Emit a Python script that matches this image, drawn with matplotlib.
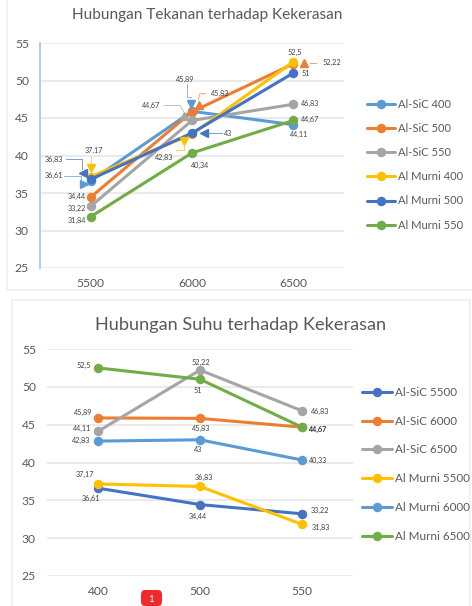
import matplotlib
matplotlib.use("Agg")
import matplotlib.pyplot as plt
from matplotlib.lines import Line2D
from matplotlib.patches import FancyBboxPatch, Rectangle
from matplotlib.transforms import IdentityTransform

W, H = 472, 606
plt.rcParams['font.family'] = ['Lato', 'DejaVu Sans']

BLUE_L, ORANGE, GRAY, YELLOW, BLUE_D, GREEN = '#5B9BD5', '#ED7D31', '#A5A5A5', '#FFC000', '#4472C4', '#70AD47'
TXT = '#595959'

# ---- top chart data
top_title = 'Hubungan Tekanan terhadap Kekerasan'
top_cats = ['5500', '6000', '6500']
top_names = ['Al-SiC 400', 'Al-SiC 500', 'Al-SiC 550', 'Al Murni 400', 'Al Murni 500', 'Al Murni 550']
sic400 = [36.61, 45.89, 44.11]
sic500 = [34.44, 45.83, 52.22]
sic550 = [33.22, 44.67, 46.83]
murni400 = [37.17, 42.83, 52.5]
murni500 = [36.83, 43, 51]
murni550 = [31.84, 40.34, 44.67]
top_vals = [sic400, sic500, sic550, murni400, murni500, murni550]
top_cols = [BLUE_L, ORANGE, GRAY, YELLOW, BLUE_D, GREEN]

# ---- bottom chart data
bot_title = 'Hubungan Suhu terhadap Kekerasan'
bot_cats = ['400', '500', '550']
bot_names = ['Al-SiC 5500', 'Al-SiC 6000', 'Al-SiC 6500', 'Al Murni 5500', 'Al Murni 6000', 'Al Murni 6500']
sic5500 = [36.61, 34.44, 33.22]
sic6000 = [45.89, 45.83, 44.67]
sic6500 = [44.11, 52.22, 46.83]
murni5500 = [37.17, 36.83, 31.83]
murni6000 = [42.83, 43, 40.33]
murni6500 = [52.5, 51, 44.67]
bot_vals = [sic5500, sic6000, sic6500, murni5500, murni6000, murni6500]
bot_cols = [BLUE_D, ORANGE, GRAY, YELLOW, BLUE_L, GREEN]

yticks = [25, 30, 35, 40, 45, 50, 55]

# data-label offsets from the point, pixels (dx, dy up), per series
top_off = [[(-37, 5), (-7, 32), (6, -10)],
           [(-14, 1), (28, 18), (39, 1)],
           [(-14, -2), (-41, 15), (17, 1)],
           [(3, 26), (-28, -23), (1, 9)],
           [(-37, 20), (36, 0), (12, -1)],
           [(-14, -4), (8, -13), (17, 1)]]
bot_off = [[(-7, -10), (-2, -12), (18, 3)],
           [(-15, 5), (1, -10), (16, -2)],
           [(-16, 3), (1, 8), (18, -1)],
           [(-13, 9), (3.5, 9.5), (19, -3)],
           [(-17, 1), (-2, -10), (16, 0)],
           [(-14, 2), (-2, -11), (16, -2)]]

# callouts on the top chart: series, point, marker, marker offset, leader path offsets
callouts = [
    (0, 0, '>', (-7, -3), [(-27, 5), (-10, 5), (-10, -1)]),
    (4, 0, '<', (-8, 6), [(-25, 20), (-9, 20), (-9, 10)]),
    (3, 0, 'v', (0, 9), [(0, 20), (0, 14)]),
    (0, 1, 'v', (-1.5, 7), [(-5.5, 27), (-5.5, 14), (-1.5, 14)]),
    (1, 1, '^', (6.5, 7), [(13.5, 18), (7.5, 18), (6.5, 12)]),
    (2, 1, '^', (-8.5, 4.5), [(-28, 15), (-12, 15), (-8.5, 9)]),
    (4, 1, '<', (11.5, 0), [(16, 0), (30, 0)]),
    (3, 1, 'v', (-8.5, -7), [(-16, -16), (-8.5, -16), (-8.5, -12)]),
    (1, 2, '^', (11, 1), [(17, 1), (23, 1)]),
]

fig = plt.figure(figsize=(W / 100, H / 100), dpi=100, facecolor='white')


def fx(px):
    return px / W


def fy(py):
    return 1 - py / H


def panel(x0, y0, x1, y1):
    fig.add_artist(Rectangle((fx(x0), fy(y1)), fx(x1 - x0), (y1 - y0) / H, transform=fig.transFigure,
                             facecolor='white', edgecolor='#EFEFEF', lw=1.2, zorder=-5))


panel(7, -5, 480, 290)
panel(12, 300, 470, 620)


def chart(box, title, title_xy, title_fs, cats, names, vals, cols, offs, leg_xy, leg_fs, leg_space, handle_px):
    x0, y0, x1, y1 = box
    ax = fig.add_axes([fx(x0), fy(y1), fx(x1 - x0), (y1 - y0) / H])
    ax.patch.set_alpha(0)
    ax.set_xlim(-0.5, 2.5)
    ax.set_ylim(25, 55)
    ax.set_yticks(yticks)
    ax.set_xticks(range(3))
    ax.set_xticklabels(cats)
    ax.grid(axis='y', color='#E4E4E4', lw=1.1)
    ax.set_axisbelow(True)
    for s in ax.spines.values():
        s.set_visible(False)
    ax.tick_params(length=0, labelsize=8.7, labelcolor=TXT, pad=7)
    ax.tick_params(axis='y', pad=8)
    handles = []
    for name, v, c in zip(names, vals, cols):
        h, = ax.plot(range(3), v, color=c, lw=2.2, marker='o', ms=5.8, label=name, solid_capstyle='round')
        handles.append(h)
    for v, off, c in zip(vals, offs, cols):
        for i, (val, (dx, dy)) in enumerate(zip(v, off)):
            ax.annotate(f'{val:g}'.replace('.', ','), (i, val), xytext=(dx, dy), textcoords='offset pixels',
                        ha='center', va='center', fontsize=5.2, color='#404040', zorder=6)
    fig.text(fx(title_xy[0]), fy(title_xy[1]), title, ha='center', va='center', fontsize=title_fs, color=TXT)
    fig.legend(handles=handles, loc='upper left', bbox_to_anchor=(fx(leg_xy[0]), fy(leg_xy[1])), frameon=False,
               fontsize=leg_fs, labelcolor=TXT, handlelength=handle_px / (leg_fs * 100 / 72), handletextpad=0.25,
               labelspacing=leg_space, borderpad=0, borderaxespad=0)
    return ax


top_ax = chart((40, 43, 344, 268), top_title, (207, 15), 11.1, top_cats, top_names, top_vals, top_cols,
               top_off, (367, 99), 8.0, 1.18, 28)
bot_ax = chart((47, 349, 353, 576), bot_title, (241, 325), 13.1, bot_cats, bot_names, bot_vals, bot_cols,
               bot_off, (362, 387), 8.4, 1.52, 30)

# selected-series accent on the top chart's value axis
top_ax.spines['left'].set_visible(True)
top_ax.spines['left'].set_color('#A9CDEB')
top_ax.spines['left'].set_linewidth(1.4)

# callouts
fig.canvas.draw()
for s, i, mk, (mx, my), path in callouts:
    val = top_vals[s][i]
    px, py = top_ax.transData.transform((i, val))
    col = top_cols[s]
    fig.add_artist(Line2D([px + a for a, b in path], [py + b for a, b in path], transform=IdentityTransform(),
                          color=col, lw=0.7, alpha=0.7, zorder=5))
    fig.add_artist(Line2D([px + mx], [py + my], transform=IdentityTransform(), marker=mk, ms=6, color=col,
                          lw=0, zorder=5))

# red notification badge
fig.add_artist(FancyBboxPatch((fx(141), fy(606)), fx(21), 16 / H, transform=fig.transFigure,
                              boxstyle='round,pad=0,rounding_size=0.008', mutation_aspect=1,
                              facecolor='#EE2A2E', edgecolor='none', zorder=8))
fig.text(fx(151), fy(600), '1', color='white', fontsize=7, ha='center', va='center', zorder=9)

fig.savefig('out.png', dpi=100)
